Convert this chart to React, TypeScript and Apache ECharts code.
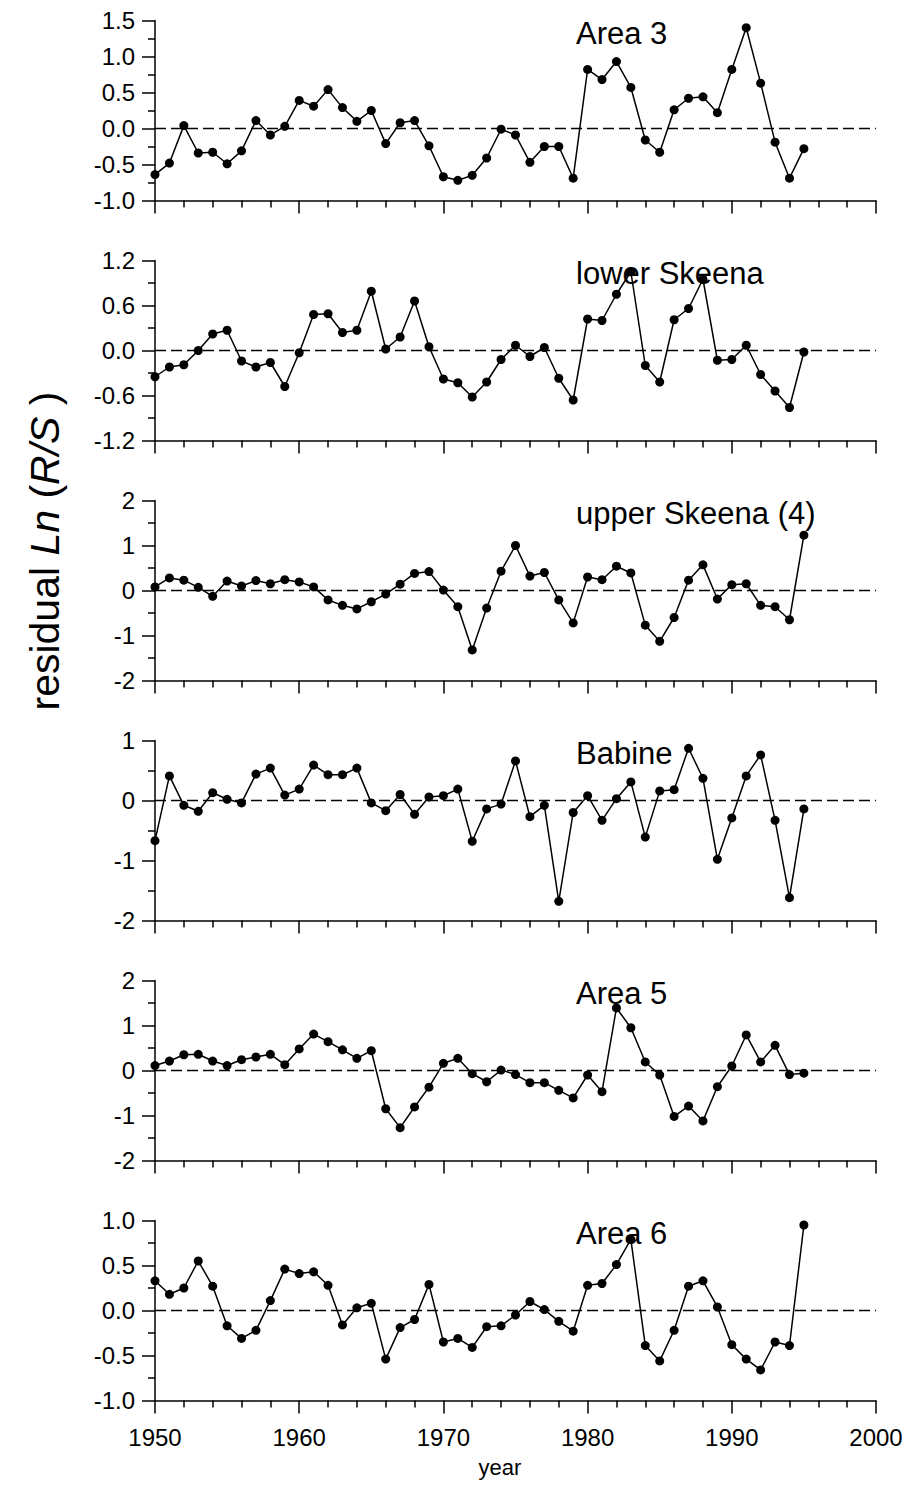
import React, { useEffect, useRef } from "react";
import * as echarts from "echarts";

const years = [1950, 1951, 1952, 1953, 1954, 1955, 1956, 1957, 1958, 1959, 1960, 1961, 1962, 1963, 1964, 1965, 1966, 1967, 1968, 1969, 1970, 1971, 1972, 1973, 1974, 1975, 1976, 1977, 1978, 1979, 1980, 1981, 1982, 1983, 1984, 1985, 1986, 1987, 1988, 1989, 1990, 1991, 1992, 1993, 1994, 1995];

const area3 = [-0.64, -0.48, 0.04, -0.34, -0.33, -0.49, -0.31, 0.11, -0.09, 0.03, 0.39, 0.31, 0.54, 0.29, 0.10, 0.25, -0.21, 0.08, 0.11, -0.24, -0.67, -0.72, -0.65, -0.41, -0.01, -0.09, -0.47, -0.25, -0.25, -0.69, 0.82, 0.68, 0.93, 0.57, -0.16, -0.33, 0.26, 0.42, 0.44, 0.22, 0.82, 1.40, 0.63, -0.19, -0.69, -0.28];
const lowerSkeena = [-0.35, -0.22, -0.19, 0.00, 0.22, 0.27, -0.14, -0.22, -0.16, -0.48, -0.03, 0.48, 0.49, 0.24, 0.27, 0.79, 0.02, 0.18, 0.66, 0.05, -0.38, -0.43, -0.62, -0.42, -0.12, 0.07, -0.08, 0.04, -0.37, -0.66, 0.42, 0.40, 0.75, 1.05, -0.20, -0.42, 0.41, 0.56, 0.95, -0.13, -0.12, 0.07, -0.32, -0.54, -0.76, -0.02];
const upperSkeena = [0.08, 0.28, 0.23, 0.07, -0.13, 0.21, 0.10, 0.22, 0.15, 0.24, 0.19, 0.08, -0.21, -0.33, -0.41, -0.25, -0.08, 0.14, 0.38, 0.42, 0.01, -0.36, -1.32, -0.39, 0.43, 1.00, 0.32, 0.40, -0.21, -0.72, 0.30, 0.24, 0.54, 0.39, -0.77, -1.13, -0.60, 0.23, 0.57, -0.19, 0.13, 0.15, -0.33, -0.36, -0.65, 1.23];
const babine = [-0.67, 0.41, -0.08, -0.18, 0.13, 0.02, -0.04, 0.44, 0.54, 0.09, 0.19, 0.59, 0.43, 0.43, 0.54, -0.04, -0.17, 0.10, -0.23, 0.06, 0.08, 0.19, -0.68, -0.14, -0.06, 0.66, -0.27, -0.08, -1.68, -0.20, 0.08, -0.33, 0.03, 0.31, -0.61, 0.16, 0.18, 0.87, 0.37, -0.98, -0.29, 0.41, 0.76, -0.33, -1.62, -0.14];
const area5 = [0.11, 0.21, 0.35, 0.36, 0.21, 0.11, 0.24, 0.30, 0.36, 0.13, 0.48, 0.81, 0.64, 0.46, 0.27, 0.44, -0.85, -1.27, -0.81, -0.37, 0.16, 0.27, -0.07, -0.25, 0.01, -0.09, -0.27, -0.27, -0.44, -0.61, -0.10, -0.47, 1.39, 0.95, 0.19, -0.10, -1.02, -0.79, -1.12, -0.36, 0.10, 0.79, 0.19, 0.56, -0.09, -0.06];
const area6 = [0.33, 0.18, 0.25, 0.55, 0.27, -0.17, -0.31, -0.22, 0.11, 0.46, 0.41, 0.43, 0.28, -0.16, 0.03, 0.08, -0.54, -0.19, -0.10, 0.29, -0.35, -0.31, -0.41, -0.18, -0.17, -0.05, 0.10, 0.01, -0.12, -0.23, 0.28, 0.30, 0.51, 0.79, -0.39, -0.56, -0.22, 0.27, 0.33, 0.04, -0.38, -0.54, -0.66, -0.35, -0.39, 0.95];

const panelNames = ["Area 3", "lower Skeena", "upper Skeena (4)", "Babine", "Area 5", "Area 6"];
const panelSeries = [area3, lowerSkeena, upperSkeena, babine, area5, area6];
const yMins = [-1.0, -1.2, -2, -2, -2, -1.0];
const yMaxs = [1.5, 1.2, 2, 1, 2, 1.0];
const yIntervals = [0.5, 0.6, 1, 1, 1, 0.5];
const yDecimals = [1, 1, 0, 0, 0, 1];
const xTickLabels = [1950, 1960, 1970, 1980, 1990, 2000];

const FONT = "'Liberation Sans', Arial, Helvetica, sans-serif";

export default function App() {
  const ref = useRef<HTMLDivElement>(null);
  useEffect(() => {
    document.body.style.margin = "0";
    if (!ref.current) return;
    const chart = echarts.init(ref.current, null, { renderer: "svg" });
    const n = panelSeries.length;
    const gridLeft = 155;
    const gridWidth = 721;
    const gridH = 180;
    const tops = panelSeries.map((_, i) => 20.5 + 240 * i);

    const grids = tops.map((t) => ({ left: gridLeft, top: t, width: gridWidth, height: gridH }));
    const xAxes = tops.map((_, i) => ({
      type: "value",
      gridIndex: i,
      min: xTickLabels[0],
      max: xTickLabels[xTickLabels.length - 1],
      interval: 10,
      axisLine: { show: true, onZero: false, lineStyle: { color: "#000", width: 1.5 } },
      axisTick: { show: true, inside: false, length: 13, lineStyle: { color: "#000", width: 1.5 } },
      minorTick: { show: true, splitNumber: 5, length: 7, lineStyle: { color: "#000", width: 1.5 } },
      splitLine: { show: false },
      axisLabel: {
        show: i === n - 1,
        color: "#000",
        fontSize: 24,
        fontFamily: FONT,
        margin: 25,
        formatter: (v: number) => String(v),
      },
    }));
    const yAxes = tops.map((_, i) => ({
      type: "value",
      gridIndex: i,
      min: yMins[i],
      max: yMaxs[i],
      interval: yIntervals[i],
      axisLine: { show: true, onZero: false, lineStyle: { color: "#000", width: 1.5 } },
      axisTick: { show: true, inside: false, length: 13, lineStyle: { color: "#000", width: 1.5 } },
      minorTick: { show: true, splitNumber: 2, length: 7, lineStyle: { color: "#000", width: 1.5 } },
      splitLine: { show: false },
      axisLabel: {
        color: "#000",
        fontSize: 24,
        fontFamily: FONT,
        margin: 20,
        formatter: (v: number) => (Math.abs(v) < 1e-9 ? 0 : v).toFixed(yDecimals[i]),
      },
    }));
    const series = panelSeries.map((vals, i) => ({
      type: "line",
      name: panelNames[i],
      xAxisIndex: i,
      yAxisIndex: i,
      data: years.map((y, k) => [y, vals[k]]),
      symbol: "circle",
      symbolSize: 9,
      showSymbol: true,
      itemStyle: { color: "#000" },
      lineStyle: { color: "#000", width: 1.5 },
      markLine: {
        silent: true,
        symbol: "none",
        label: { show: false },
        lineStyle: { color: "#000", width: 1.3, type: [11, 5] },
        data: [{ yAxis: 0 }],
      },
      z: 3,
    }));
    const graphics: any[] = panelNames.map((name, i) => ({
      type: "text",
      x: 576,
      y: tops[i] + 13,
      style: {
        text: name,
        fill: "#000",
        font: `31px ${FONT}`,
        textAlign: "left",
        textVerticalAlign: "middle",
      },
      z: 10,
    }));
    graphics.push({
      type: "text",
      x: 500,
      y: 1467,
      style: {
        text: "year",
        fill: "#000",
        font: `22px ${FONT}`,
        textAlign: "center",
        textVerticalAlign: "middle",
      },
    });
    graphics.push({
      type: "text",
      x: 45,
      y: 551,
      rotation: Math.PI / 2,
      style: {
        text: "{n|residual }{i|Ln}{n| (}{i|R/S}{n| )}",
        fill: "#000",
        textAlign: "center",
        textVerticalAlign: "middle",
        rich: {
          n: { fontSize: 41, fontFamily: FONT, fill: "#000" },
          i: { fontSize: 41, fontFamily: FONT, fontStyle: "italic", fill: "#000" },
        },
      },
    });

    chart.setOption({
      animation: false,
      backgroundColor: "#fff",
      grid: grids,
      xAxis: xAxes,
      yAxis: yAxes,
      series,
      graphic: graphics,
    });
    return () => chart.dispose();
  }, []);
  return (
    <div
      ref={ref}
      style={{ position: "absolute", left: 0, top: 0, width: 907, height: 1491, background: "#fff" }}
    />
  );
}
